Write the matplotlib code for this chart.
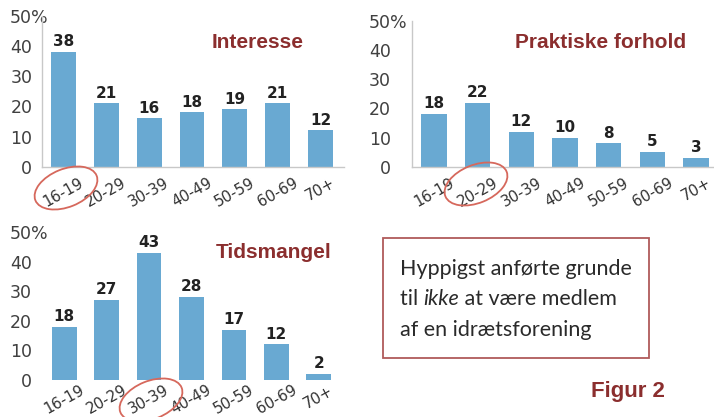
import matplotlib.pyplot as plt
import matplotlib.transforms as mtransforms
from matplotlib.patches import Ellipse, Rectangle

# Data
age_groups = ["16-19", "20-29", "30-39", "40-49", "50-59", "60-69", "70+"]
interesse = [38, 21, 16, 18, 19, 21, 12]
praktiske = [18, 22, 12, 10, 8, 5, 3]
tidsmangel = [18, 27, 43, 28, 17, 12, 2]
y_ticks = [0, 10, 20, 30, 40, 50]
y_labels = ["0", "10", "20", "30", "40", "50%"]

BAR = "#69A9D2"
RED = "#8B2E2E"
W, H = 714, 417

plt.rcParams["font.family"] = ["DejaVu Sans"]


def px_axes(fig, x0, x1, y_top, y_bot):
    # axes placed by pixel edges (top-left origin)
    return fig.add_axes([x0 / W, 1 - y_bot / H, (x1 - x0) / W, (y_bot - y_top) / H])


def draw_panel(ax, values, title, title_xy, xlim, pad, xpad, spines=True):
    x = range(len(values))
    ax.bar(x, values, width=0.58, color=BAR, zorder=2)
    for xi, v in zip(x, values):
        ax.annotate(str(v), (xi, v), xytext=(0, 2), textcoords="offset points",
                    ha="center", va="bottom", fontsize=11, fontweight="bold",
                    color="#222222")
    ax.set_xlim(*xlim)
    ax.set_ylim(0, 50)
    ax.set_yticks(y_ticks)
    ax.set_yticklabels(y_labels)
    ax.set_xticks(list(x))
    ax.set_xticklabels(age_groups, rotation=29, ha="center")
    ax.tick_params(axis="x", length=0, pad=xpad, labelsize=10.8, labelcolor="#333333")
    ax.tick_params(axis="y", length=0, pad=pad, labelsize=12.5, labelcolor="#404040")
    # let the % sign hang past the numbers
    top = ax.get_yticklabels()[-1]
    top.set_horizontalalignment("left")
    top.set_transform(top.get_transform() + mtransforms.ScaledTranslation(
        -0.225, 0, ax.figure.dpi_scale_trans))
    for s in ["top", "right"]:
        ax.spines[s].set_visible(False)
    for s in ["left", "bottom"]:
        ax.spines[s].set_color("#C8C8C8")
        ax.spines[s].set_linewidth(1.0)
        ax.spines[s].set_visible(spines)
    ax.text(title_xy[0] / W, 1 - title_xy[1] / H, title, transform=ax.figure.transFigure,
            ha="center", va="center", fontsize=15, fontweight="bold", color=RED,
            family="Liberation Sans")


fig = plt.figure(figsize=(W / 100, H / 100), dpi=100)

ax1 = px_axes(fig, 42, 344, 15.7, 166.7)
draw_panel(ax1, interesse, "Interesse", (258, 43), (-0.5, 6.55), 7, 6)

ax2 = px_axes(fig, 412, 718, 21, 166.7)
draw_panel(ax2, praktiske, "Praktiske forhold", (601, 43), (-0.5, 6.5), 15, 6)

ax3 = px_axes(fig, 43, 340, 232, 380)
draw_panel(ax3, tidsmangel, "Tidsmangel", (274, 253), (-0.5, 6.5), 8, 2, spines=False)

# overlay in pixel coordinates for the annotations
ov = fig.add_axes([0, 0, 1, 1], zorder=10)
ov.set_xlim(0, W)
ov.set_ylim(0, H)
ov.axis("off")
ov.patch.set_alpha(0)

for cx, cy in [(66, 188), (476, 184), (151, 400)]:
    ov.add_patch(Ellipse((cx, H - cy), 66, 38, angle=22, fill=False,
                         edgecolor="#D6685C", linewidth=1.3))

ov.add_patch(Rectangle((383, H - 358), 266, 120, fill=False,
                       edgecolor="#B05A5A", linewidth=1.3))

body = dict(fontsize=15.5, color="#2A2A2A", family="Lato")
ov.text(400, H - 275, "Hyppigst anførte grunde", va="baseline", **body)
t1 = ov.text(400, H - 305, "til ", va="baseline", **body)
t2 = ov.annotate("ikke", xy=(1, 0), xycoords=t1, va="bottom", ha="left",
                 style="italic", **body)
ov.annotate(" at være medlem", xy=(1, 0), xycoords=t2, va="bottom", ha="left", **body)
ov.text(400, H - 336, "af en idrætsforening", va="baseline", **body)

ov.text(628, H - 391, "Figur 2", ha="center", va="center", fontsize=16,
        fontweight="bold", color=RED, family="Liberation Sans")

fig.savefig("out.png", dpi=100)
